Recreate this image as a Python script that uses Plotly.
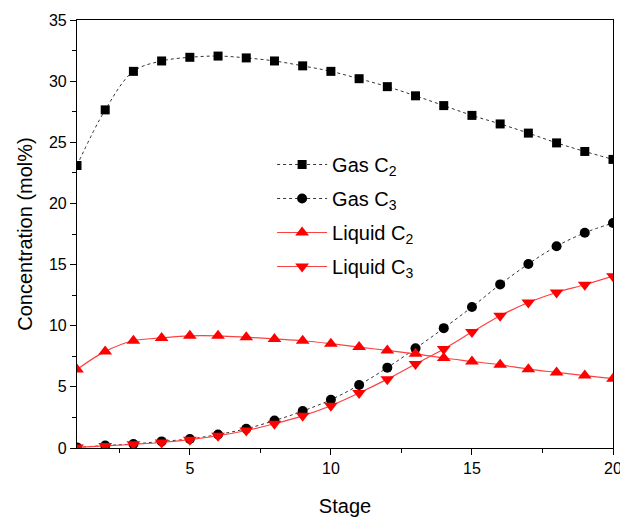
import plotly.graph_objects as go

stage = list(range(1, 21))
gas_c2 = [23.1, 27.65, 30.8, 31.65, 31.95, 32.05, 31.9, 31.65, 31.25, 30.8,
          30.2, 29.55, 28.8, 28.0, 27.2, 26.5, 25.75, 24.95, 24.25, 23.6]
gas_c3 = [0.05, 0.2, 0.33, 0.54, 0.74, 1.1, 1.58, 2.24, 3.02, 3.95,
          5.15, 6.57, 8.15, 9.8, 11.53, 13.38, 15.05, 16.5, 17.6, 18.4]
liq_c2 = [6.42, 7.9, 8.77, 9.0, 9.17, 9.17, 9.06, 8.92, 8.77, 8.53,
          8.25, 7.98, 7.7, 7.36, 7.08, 6.8, 6.45, 6.18, 5.92, 5.67]
liq_c3 = [0.05, 0.17, 0.3, 0.45, 0.68, 1.0, 1.43, 1.98, 2.63, 3.46,
          4.5, 5.63, 6.87, 8.1, 9.48, 10.82, 11.9, 12.72, 13.35, 14.05]

names = ["Gas C<sub>2</sub>", "Gas C<sub>3</sub>", "Liquid C<sub>2</sub>", "Liquid C<sub>3</sub>"]

fig = go.Figure()
fig.add_trace(go.Scatter(x=stage, y=gas_c2, name=names[0], legendgroup="a", mode="lines+markers",
                         line=dict(color="#333333", width=1, dash="dot", shape="spline"),
                         marker=dict(symbol="square", size=9, color="black")))
fig.add_trace(go.Scatter(x=stage, y=gas_c3, name=names[1], legendgroup="b", mode="lines+markers",
                         line=dict(color="#333333", width=1, dash="dot", shape="spline"),
                         marker=dict(symbol="circle", size=10, color="black")))
fig.add_trace(go.Scatter(x=stage, y=liq_c2, name=names[2], legendgroup="c", mode="lines+markers",
                         line=dict(color="#ff4040", width=1.2, shape="spline"),
                         marker=dict(symbol="triangle-up", size=12, color="red")))
fig.add_trace(go.Scatter(x=stage, y=liq_c3, name=names[3], legendgroup="d", mode="lines+markers",
                         line=dict(color="#ff4040", width=1.2, shape="spline"),
                         marker=dict(symbol="triangle-down", size=12, color="red")))

axis_common = dict(showline=True, linecolor="black", linewidth=1.2, mirror=True,
                   ticks="outside", ticklen=6, tickwidth=1.2, tickcolor="black",
                   showgrid=False, zeroline=False, ticklabeloverflow="allow", automargin=False,
                   tickfont=dict(family="Liberation Sans, Arial", size=16, color="black"))

fig.update_xaxes(range=[1, 20], tickmode="array", tickvals=[5, 10, 15, 20],
                 minor=dict(tickvals=[2.5, 7.5, 12.5, 17.5], ticks="outside", ticklen=4,
                            tickwidth=1.2, tickcolor="black"),
                 title=dict(text="Stage", font=dict(family="Liberation Sans, Arial", size=20, color="black"),
                            standoff=22),
                 **axis_common)
fig.update_yaxes(range=[0, 35], tickmode="array", tickvals=[0, 5, 10, 15, 20, 25, 30, 35],
                 minor=dict(tickvals=[2.5, 7.5, 12.5, 17.5, 22.5, 27.5, 32.5], ticks="outside",
                            ticklen=4, tickwidth=1.2, tickcolor="black"),
                 title=dict(text="Concentration (mol%)",
                            font=dict(family="Liberation Sans, Arial", size=20, color="black"),
                            standoff=10),
                 **axis_common)

fig.update_layout(width=620, height=517, margin=dict(l=77, r=7, t=20, b=69),
                  plot_bgcolor="white", paper_bgcolor="white",
                  legend=dict(x=0.364, y=0.708, xanchor="left", yanchor="top",
                              bgcolor="rgba(0,0,0,0)", itemwidth=50, tracegroupgap=5,
                              font=dict(family="Liberation Sans, Arial", size=20, color="black")),
                  showlegend=True)

fig.write_html("out.html")
